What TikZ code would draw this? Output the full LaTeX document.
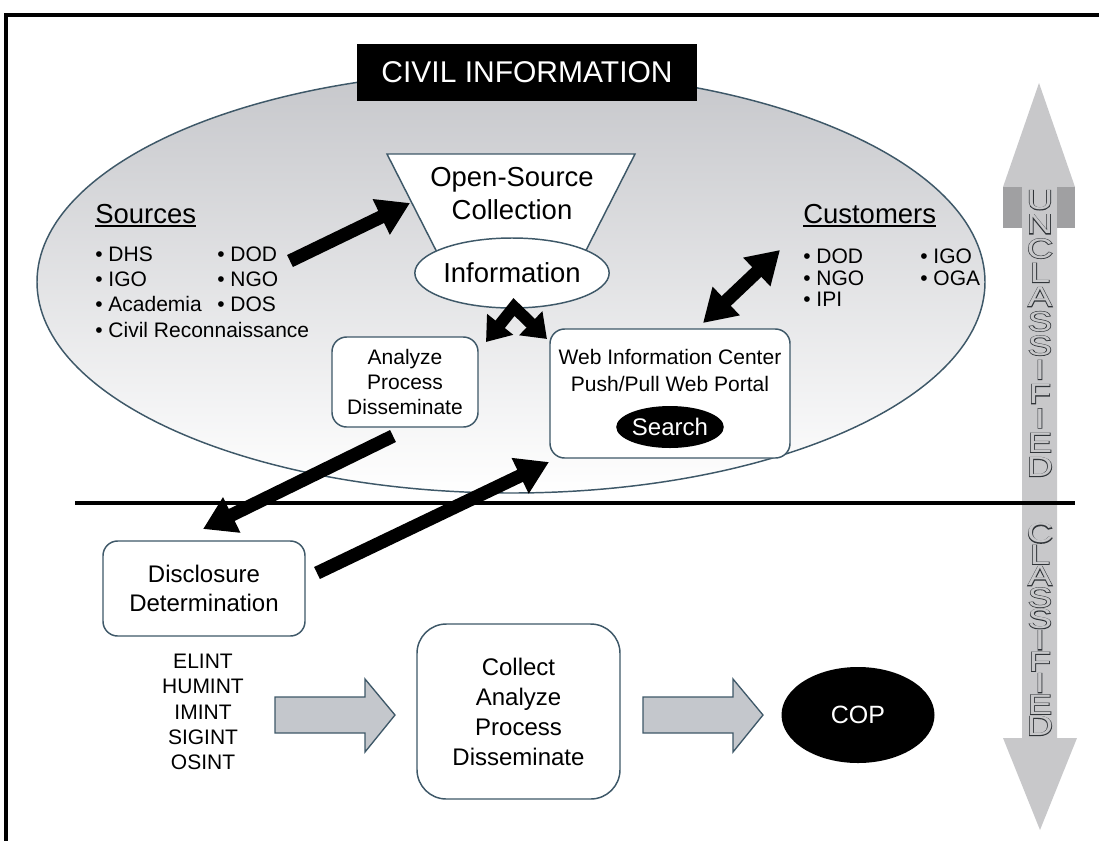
\documentclass[tikz,border=0pt]{standalone}
\usepackage{fontspec}
\setmainfont{Liberation Sans}
\newfontfamily\emboldfont[FakeBold=4]{Liberation Sans}
\usetikzlibrary{arrows.meta,shapes.geometric}

\definecolor{edge}{RGB}{62,88,104}
\definecolor{shaftgray}{RGB}{200,200,202}
\definecolor{sidegray}{RGB}{160,160,162}
\definecolor{blockgray}{RGB}{196,199,204}
\definecolor{letteredge}{RGB}{48,52,56}
\definecolor{ovaltop}{RGB}{198,199,203}

\newcommand\sz[2]{\fontsize{#1pt}{#2pt}\selectfont}

% a letter with a dark outline and a grey body: an emboldened dark copy under a plain grey one
\newcommand\hl[1]{\scalebox{1.3}[1]{\rlap{\emboldfont\color{letteredge}#1}\textcolor{shaftgray}{#1}}}

\begin{document}
\begin{tikzpicture}[x=0.75pt,y=-0.75pt,
  box/.style={draw=edge,line width=1.1pt,fill=white,rounded corners=11pt,inner sep=0pt,align=center},
  small/.style={font=\sz{15.75}{18.75}},
  big/.style={font=\sz{20.6}{24.75}},
  bullet/.style={small,anchor=base west,inner sep=0pt},
  fat/.style={line width=10pt,-{Triangle[length=24pt,width=28pt]}},
  fatboth/.style={line width=10pt,{Triangle[length=24pt,width=28pt]}-{Triangle[length=24pt,width=28pt]}},
  fork/.style={line width=9pt,line join=miter,{Triangle[length=17pt,width=24pt]}-{Triangle[length=17pt,width=24pt]}},
  block/.style={draw=edge,line width=1pt,fill=blockgray,line join=miter},
  vword/.style={inner sep=0pt,align=center},
]
\useasboundingbox (0,0) rectangle (1099,840);

% outer frame
\draw[line width=2.4pt] (6,845) -- (6,15) -- (1105,15);

% civil information oval
\path[draw=edge,line width=1.1pt,top color=ovaltop,bottom color=white]
  (511,282) ellipse [x radius=474,y radius=211];

% unclassified / classified double arrow
\fill[shaftgray] (1039,83) -- (1075,187) -- (1057,187) -- (1057,738) -- (1077,738)
  -- (1040,830) -- (1003,738) -- (1022,738) -- (1022,187) -- (1003,187) -- cycle;
\fill[sidegray] (1003,187) rectangle (1022,228);
\fill[sidegray] (1057,187) rectangle (1075,228);

\node[vword,font=\sz{21}{18.2}] (unclass) at (1040,333.5)
  {\hl{U}\\\hl{N}\\\hl{C}\\\hl{L}\\\hl{A}\\\hl{S}\\\hl{S}\\\hl{I}\\\hl{F}\\\hl{I}\\\hl{E}\\\hl{D}};
\node[vword,font=\sz{21}{16.05}] (class) at (1040,629.5)
  {\hl{C}\\\hl{L}\\\hl{A}\\\hl{S}\\\hl{S}\\\hl{I}\\\hl{F}\\\hl{I}\\\hl{E}\\\hl{D}};

% boundary line
\draw[line width=2.4pt] (75,503) -- (1075,503);

% title
\node[fill=black,text=white,minimum width=340*0.75pt,minimum height=57*0.75pt,
  font=\sz{22.5}{22.5}] (title) at (527,72.5) {CIVIL INFORMATION};

% open-source funnel
\draw[draw=edge,line width=1.1pt,fill=white,line join=miter]
  (387,154) -- (635,154) -- (576,270) -- (446,270) -- cycle;
\node[big,align=center,inner sep=0pt] (osc) at (512,194) {Open-Source\\Collection};
\node[ellipse,draw=edge,line width=1.1pt,fill=white,minimum width=175*0.75pt,
  minimum height=70*0.75pt,inner sep=0pt,big] (info) at (512,273) {Information};

% sources
\node[big,anchor=base west,inner sep=0pt] (srchead) at (95,223) {Sources};
\draw[line width=1.4pt] ([yshift=-2.4pt]srchead.base west) -- ([yshift=-2.4pt]srchead.base east);
\foreach \t/\yy [count=\i] in {DHS/261.5,IGO/286.5,Academia/311.5,Civil Reconnaissance/337.5}
  \node[bullet] (srca\i) at (95,\yy) {• \t};
\foreach \t/\yy [count=\i] in {DOD/261.5,NGO/286.5,DOS/311.5}
  \node[bullet] (srcb\i) at (217,\yy) {• \t};

% customers
\node[big,anchor=base west,inner sep=0pt] (custhead) at (803,223) {Customers};
\draw[line width=1.4pt] ([yshift=-2.4pt]custhead.base west) -- ([yshift=-2.4pt]custhead.base east);
\foreach \t/\yy [count=\i] in {DOD/263.5,NGO/285.5,IPI/306.5}
  \node[bullet] (custa\i) at (803,\yy) {• \t};
\foreach \t/\yy [count=\i] in {IGO/263.5,OGA/285.5}
  \node[bullet] (custb\i) at (920,\yy) {• \t};

% unclassified processing
\node[box,small,minimum width=146*0.75pt,minimum height=90*0.75pt] (apd) at (405,382)
  {Analyze\\Process\\Disseminate};
\node[box,minimum width=240*0.75pt,minimum height=129*0.75pt] (web) at (670,393.5) {};
\node[font=\sz{15.75}{20.25},align=center,inner sep=0pt] (webtxt) at (670,370.5)
  {Web Information Center\\Push/Pull Web Portal};
\node[ellipse,fill=black,text=white,minimum width=93*0.75pt,minimum height=42*0.75pt,
  inner sep=0pt,font=\sz{18}{18}] (search) at (670,427) {Search};

% classified processing
\node[box,font=\sz{18}{21.75},minimum width=202*0.75pt,minimum height=95*0.75pt] (disc)
  at (204,588.5) {Disclosure\\Determination};
\node[font=\sz{15.75}{18.9},align=center,inner sep=0pt] (ints) at (203,712)
  {ELINT\\HUMINT\\IMINT\\SIGINT\\OSINT};
\node[box,rounded corners=22pt,font=\sz{18}{22.5},minimum width=203*0.75pt,
  minimum height=175*0.75pt] (capd) at (518.5,711.5) {Collect\\Analyze\\Process\\Disseminate};
\node[ellipse,fill=black,text=white,minimum width=153*0.75pt,minimum height=96*0.75pt,
  font=\sz{18.75}{18.75}] (cop) at (858,715) {COP};

% grey flow arrows
\draw[block] (275,697) -- (365,697) -- (365,679) -- (395,715) -- (365,752) -- (365,733) -- (275,733) -- cycle;
\draw[block] (643,697) -- (733,697) -- (733,679) -- (763,715) -- (733,752) -- (733,733) -- (643,733) -- cycle;

% connector end points
\coordinate (srcTail) at (290,261);
\coordinate (oscTip) at (410,203);
\coordinate (peak) at (514,307);
\coordinate (apdTip) at (486,342);
\coordinate (webTip) at (547,339);
\coordinate (webTop) at (703,323);
\coordinate (custTip) at (780,250);
\coordinate (apdFoot) at (393,436);
\coordinate (discTip) at (203,529);
\coordinate (discTail) at (317,573);
\coordinate (webFoot) at (549,462);

% black flow arrows
\draw[fat] (srcTail) -- (oscTip);
\draw[fork] (apdTip) -- (peak) -- (webTip);
\draw[fatboth] (webTop) -- (custTip);
\draw[fat] (apdFoot) -- (discTip);
\draw[fat] (discTail) -- (webFoot);
\end{tikzpicture}
\end{document}
